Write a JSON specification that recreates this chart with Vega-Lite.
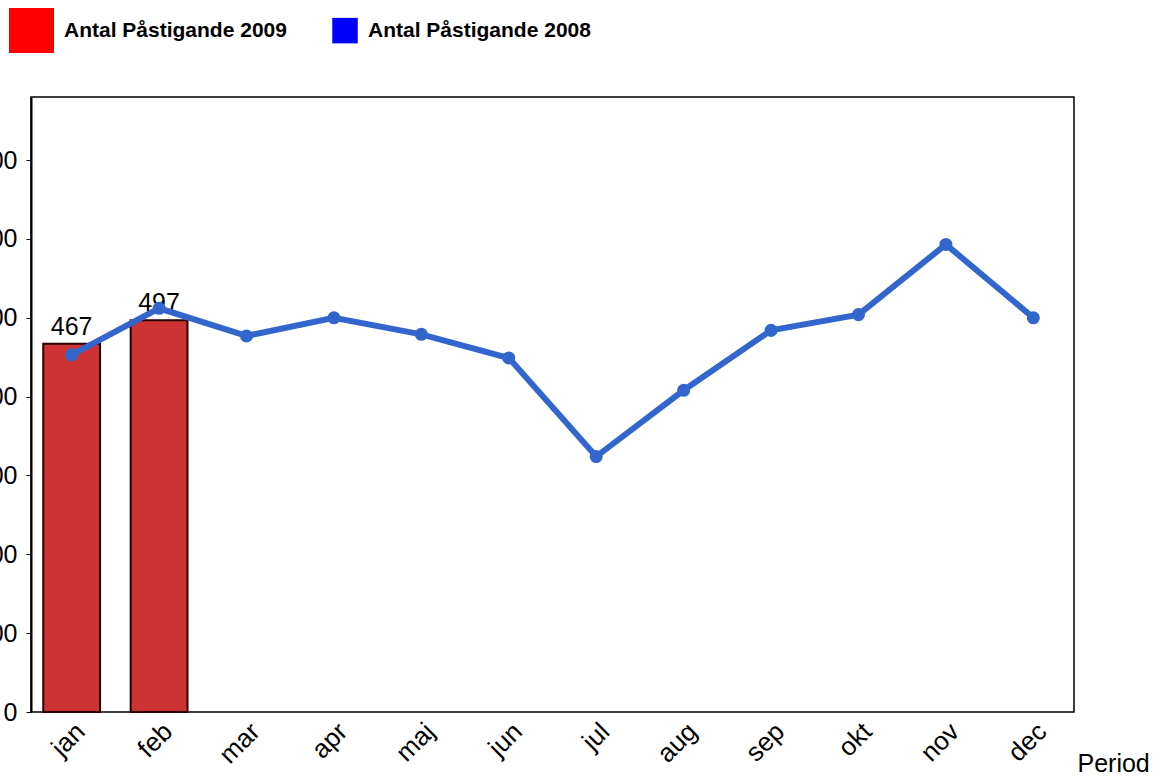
{
  "$schema": "https://vega.github.io/schema/vega-lite/v6.json",
  "autosize": {"type": "none"},
  "width": 1043,
  "height": 615,
  "padding": {"left": 31, "top": 97, "right": 88, "bottom": 64},
  "background": "white",
  "config": {
    "view": {"stroke": "#000000", "strokeWidth": 1.5},
    "font": "Liberation Sans"
  },
  "data": {
    "values": [
      {"month": "jan", "Antal Påstigande 2009": 467, "Antal Påstigande 2008": 453},
      {"month": "feb", "Antal Påstigande 2009": 497, "Antal Påstigande 2008": 512},
      {"month": "mar", "Antal Påstigande 2009": null, "Antal Påstigande 2008": 477},
      {"month": "apr", "Antal Påstigande 2009": null, "Antal Påstigande 2008": 500},
      {"month": "maj", "Antal Påstigande 2009": null, "Antal Påstigande 2008": 479},
      {"month": "jun", "Antal Påstigande 2009": null, "Antal Påstigande 2008": 449},
      {"month": "jul", "Antal Påstigande 2009": null, "Antal Påstigande 2008": 324},
      {"month": "aug", "Antal Påstigande 2009": null, "Antal Påstigande 2008": 408},
      {"month": "sep", "Antal Påstigande 2009": null, "Antal Påstigande 2008": 484},
      {"month": "okt", "Antal Påstigande 2009": null, "Antal Påstigande 2008": 504},
      {"month": "nov", "Antal Påstigande 2009": null, "Antal Påstigande 2008": 593},
      {"month": "dec", "Antal Påstigande 2009": null, "Antal Påstigande 2008": 500}
    ]
  },
  "encoding": {
    "x": {
      "field": "month",
      "type": "nominal",
      "sort": null,
      "scale": {"paddingInner": 0.35, "paddingOuter": 0.14},
      "axis": {
        "title": "Period",
        "titleFont": "Liberation Sans",
        "titleFontSize": 25,
        "titleFontWeight": "normal",
        "titleColor": "#000000",
        "titleAnchor": "start",
        "titleAlign": "left",
        "titleX": 1046,
        "titleY": 59,
        "titleBaseline": "alphabetic",
        "labelAngle": -45,
        "labelFont": "Liberation Sans",
        "labelFontSize": 26,
        "labelColor": "#000000",
        "labelPadding": 6,
        "ticks": false,
        "domain": false
      }
    }
  },
  "layer": [
    {
      "mark": {"type": "bar", "fill": "#CC3333", "stroke": "#2a0000", "strokeWidth": 2},
      "encoding": {
        "y": {
          "field": "Antal Påstigande 2009",
          "type": "quantitative",
          "scale": {"domain": [0, 780], "nice": false},
          "axis": {
            "title": null,
            "values": [0, 100, 200, 300, 400, 500, 600, 700],
            "grid": false,
            "labelFont": "Liberation Sans",
            "labelFontSize": 25,
            "labelColor": "#000000",
            "labelPadding": 9,
            "tickSize": 5,
            "tickColor": "#000000",
            "domainColor": "#000000",
            "domainWidth": 2
          }
        }
      }
    },
    {
      "mark": {"type": "text", "baseline": "alphabetic", "dy": -9, "fontSize": 25, "font": "Liberation Sans", "color": "#000000"},
      "encoding": {
        "y": {"field": "Antal Påstigande 2009", "type": "quantitative"},
        "text": {"field": "Antal Påstigande 2009", "type": "quantitative"}
      }
    },
    {
      "mark": {"type": "line", "color": "#3366CC", "strokeWidth": 6, "point": {"filled": true, "size": 170, "color": "#3366CC"}},
      "encoding": {
        "y": {"field": "Antal Påstigande 2008", "type": "quantitative"}
      }
    },
    {
      "transform": [
        {"fold": ["Antal Påstigande 2009", "Antal Påstigande 2008"], "as": ["serie", "v"]},
        {"filter": "datum.month === 'jan'"}
      ],
      "mark": {"type": "square", "opacity": 0},
      "encoding": {
        "y": {"field": "v", "type": "quantitative"},
        "color": {
          "field": "serie",
          "type": "nominal",
          "sort": null,
          "scale": {"domain": ["Antal Påstigande 2009", "Antal Påstigande 2008"], "range": ["#FF0000", "#0000FF"]},
          "legend": {
            "title": null,
            "orient": "none",
            "direction": "horizontal",
            "legendX": -22,
            "legendY": -89,
            "symbolType": "square",
            "labelFont": "Liberation Sans",
            "labelFontSize": 21,
            "labelFontWeight": "bold",
            "labelColor": "#000000",
            "labelOffset": 10,
            "columnPadding": 45,
            "labelLimit": 400,
            "encode": {"symbols": {"update": {"opacity": {"value": 1}, "fillOpacity": {"value": 1}, "strokeWidth": {"value": 0}}}}
          }
        },
        "size": {
          "field": "serie",
          "type": "nominal",
          "sort": null,
          "scale": {"domain": ["Antal Påstigande 2009", "Antal Påstigande 2008"], "range": [2025, 650]}
        }
      }
    }
  ]
}
